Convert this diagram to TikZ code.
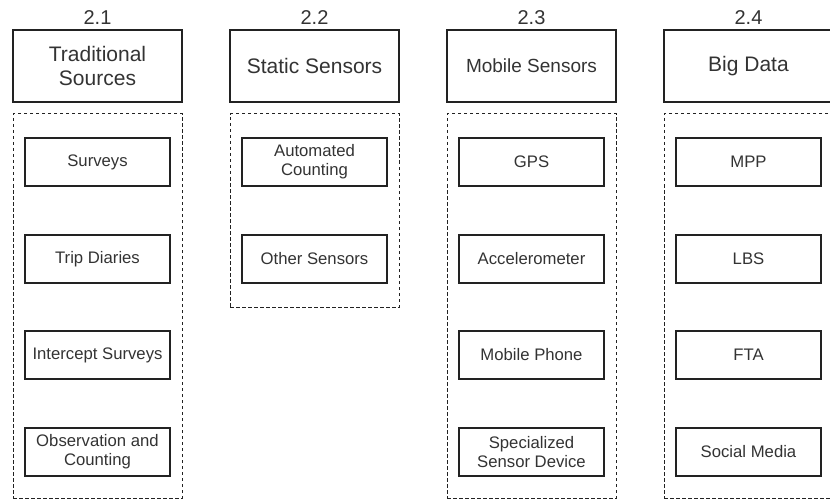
\documentclass[tikz,border=0pt]{standalone}
\usepackage{fontspec}
\setmainfont{Liberation Sans}
\definecolor{txt}{HTML}{333333}
\definecolor{ln}{HTML}{222222}
\begin{document}
\begin{tikzpicture}[x=1pt,y=-1pt,
  head/.style={draw=ln,line width=1.2pt,minimum width=169pt,minimum height=72pt,inner sep=0pt,align=center,text=txt,font=\fontsize{21}{24}\selectfont},
  item/.style={draw=ln,line width=1.1pt,minimum width=145pt,minimum height=48pt,inner sep=0pt,align=center,text=txt,font=\fontsize{16.7}{19}\selectfont},
  group/.style={draw=ln,line width=1pt,dash pattern=on 3.5pt off 2.5pt,minimum width=169pt,inner sep=0pt},
  num/.style={text=txt,font=\fontsize{20}{22}\selectfont,anchor=base,inner sep=0pt}]
\useasboundingbox (0,0) rectangle (830,500);
\clip (0,0) rectangle (830,500);
% column 1
\node[num] (n1) at (97.5,25) {2.1};
\node[head] (h1) at (97.5,66) {Traditional\\Sources};
\node[group,minimum height=384pt] (g1) at (97.5,306) {};
\node[item] (a1) at (97.5,162) {Surveys};
\node[item] (a2) at (97.5,259) {Trip Diaries};
\node[item] (a3) at (97.5,355) {Intercept Surveys};
\node[item] (a4) at (97.5,452) {Observation and\\Counting};
% column 2
\node[num] (n2) at (314.5,25) {2.2};
\node[head] (h2) at (314.5,66) {Static Sensors};
\node[group,minimum height=193pt] (g2) at (314.5,210.5) {};
\node[item] (b1) at (314.5,162) {Automated\\Counting};
\node[item] (b2) at (314.5,259) {Other Sensors};
% column 3
\node[num] (n3) at (531.5,25) {2.3};
\node[head,font=\fontsize{19}{22}\selectfont] (h3) at (531.5,66) {Mobile Sensors};
\node[group,minimum height=384pt] (g3) at (531.5,306) {};
\node[item] (c1) at (531.5,162) {GPS};
\node[item] (c2) at (531.5,259) {Accelerometer};
\node[item] (c3) at (531.5,355) {Mobile Phone};
\node[item] (c4) at (531.5,452) {Specialized\\Sensor Device};
% column 4
\node[num] (n4) at (748.5,25) {2.4};
\node[head] (h4) at (748.5,66) {Big Data};
\node[group,minimum height=384pt] (g4) at (748.5,306) {};
\node[item] (d1) at (748.5,162) {MPP};
\node[item] (d2) at (748.5,259) {LBS};
\node[item] (d3) at (748.5,355) {FTA};
\node[item] (d4) at (748.5,452) {Social Media};
\end{tikzpicture}
\end{document}
